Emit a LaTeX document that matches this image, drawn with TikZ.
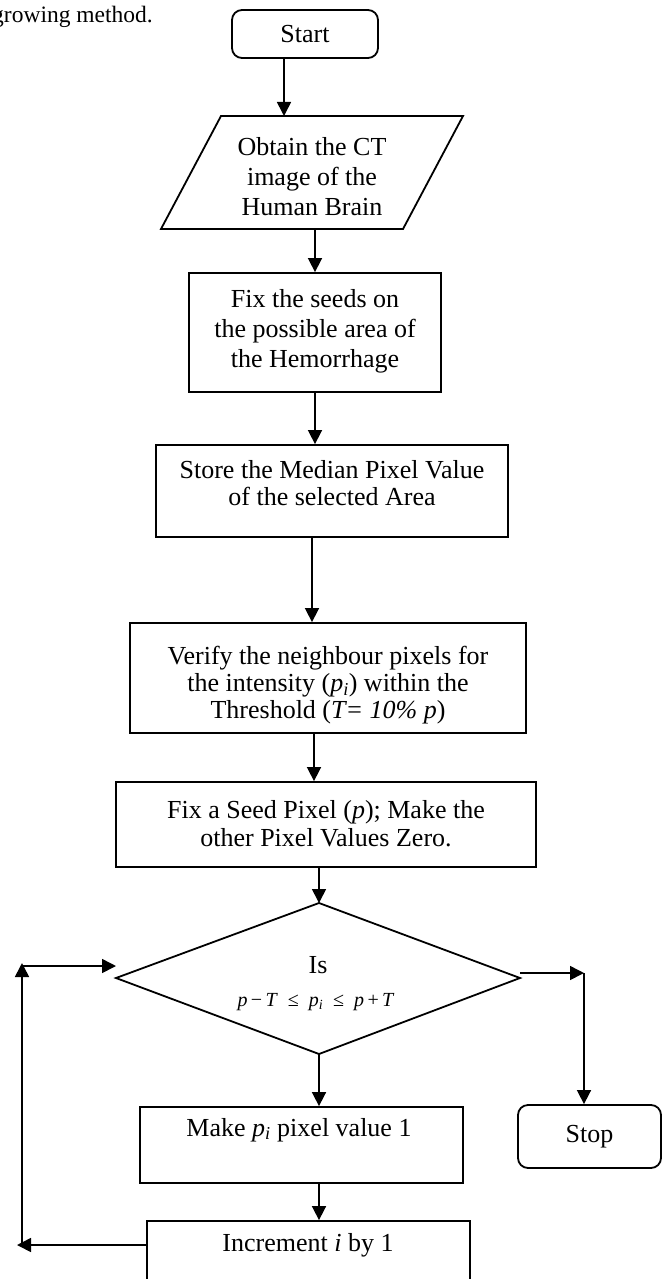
\documentclass[tikz,border=0pt]{standalone}
\usepackage{fontspec}
\setmainfont{Liberation Serif}
\usetikzlibrary{arrows.meta,calc}

\begin{document}
\begin{tikzpicture}[x=1pt,y=-1pt,
  every node/.style={font=\fontsize{26}{30}\selectfont, inner sep=0pt},
  box/.style={draw, line width=1.8pt, rectangle},
  term/.style={box, rounded corners=10pt},
  txt/.style={align=center},
  edge/.style={line width=1.8pt, line join=miter},
  flow/.style={line width=1.6pt, -{Triangle[length=14pt,width=14pt]}}
]
\useasboundingbox (0,0) rectangle (670,1279);

% tail of the caption line above the chart
\node[anchor=base east, font=\fontsize{23.5}{28}\selectfont] (cap) at (153,23) {growing method.};

% terminal: start
\node[term, minimum width=146pt, minimum height=48pt] (start) at (305,34) {Start};

% input parallelogram
\coordinate (pTL) at (221,116);
\coordinate (pTR) at (463,116);
\coordinate (pBR) at (403,229);
\coordinate (pBL) at (161,229);
\draw[edge] (pTL) -- (pTR) -- (pBR) -- (pBL) -- cycle;
\node[txt] (obtain) at (312,177) {Obtain the CT\\image of the\\Human Brain};

% process boxes
\node[box, minimum width=252pt, minimum height=119pt] (seeds) at (315,332.5) {};
\node[txt] (seedsT) at (315,331) {Fix the seeds on\\the possible area of\\the Hemorrhage};

\node[box, minimum width=352pt, minimum height=92pt] (median) at (332,491) {};
\node[txt, font=\fontsize{26}{27}\selectfont] (medianT) at (332,483) {Store the Median Pixel Value\\of the selected Area};

\node[box, minimum width=396pt, minimum height=110pt] (verify) at (328,678) {};
\begin{scope}
  \clip (131,624) rectangle (525,724);
  \node[txt, font=\fontsize{26}{27}\selectfont] (verifyT) at (328,685)
    {Verify the neighbour pixels for\\the intensity (\textit{p\textsubscript{i}}) within the\\Threshold (\textit{T= 10\% p})};
\end{scope}

\node[box, minimum width=420pt, minimum height=85pt] (seed) at (326,824.5) {};
\node[txt, font=\fontsize{26}{28}\selectfont] (seedT) at (326,824) {Fix a Seed Pixel (\textit{p}); Make the\\other Pixel Values Zero.};

% decision
\coordinate (dT) at (319,903);
\coordinate (dR) at (520,978);
\coordinate (dB) at (319,1054);
\coordinate (dL) at (116,978);
\draw[edge] (dT) -- (dR) -- (dB) -- (dL) -- cycle;
\node (isT) at (318,965) {Is};
\node[font=\fontsize{20}{24}\selectfont] (cond) at (316,1002)
  {\textit{p}\,−\,\textit{T}\ \ ≤\ \ \textit{p}\textsubscript{\textit{i}}\ \ ≤\ \ \textit{p}\,+\,\textit{T}};

\node[box, minimum width=323pt, minimum height=76pt] (make) at (301.5,1145) {};
\node (makeT) at (299,1130) {Make \textit{p\textsubscript{i}} pixel value 1};

\node[box, minimum width=323pt, minimum height=76pt] (inc) at (308.5,1259) {};
\node (incT) at (308,1245) {Increment \textit{i} by 1};

\node[term, minimum width=143pt, minimum height=63pt] (stop) at (589.5,1136.5) {Stop};

% main flow
\coordinate (a1) at (284,116);
\draw[flow] (start.south -| a1) -- (a1);
\draw[flow] (seeds.north |- pBL) -- (seeds.north);
\draw[flow] (seeds.south) -- (seeds.south |- median.north);
\coordinate (a4) at (312,537);
\draw[flow] (a4) -- (a4 |- verify.north);
\coordinate (a5) at (314,733);
\draw[flow] (a5) -- (a5 |- seed.north);
\draw[flow] (seed.south -| dT) -- (dT);
\draw[flow] (dB) -- (dB |- make.north);
\draw[flow] (dB |- make.south) -- (dB |- inc.north);

% loop back to the decision
\coordinate (loopB) at (17,1245);
\coordinate (loopC) at (22,1245);
\coordinate (loopT) at (22,963);
\coordinate (loopH) at (22,966);
\draw[flow] (incT -| inc.west) -- (loopB);
\draw[flow] (loopC) -- (loopT);
\draw[flow] (loopH) -- (loopH -| dL);

% exit to stop
\coordinate (rY) at (584,973);
\draw[flow] (rY -| dR) -- (rY);
\draw[flow] (rY) -- (rY |- stop.north);
\end{tikzpicture}
\end{document}
